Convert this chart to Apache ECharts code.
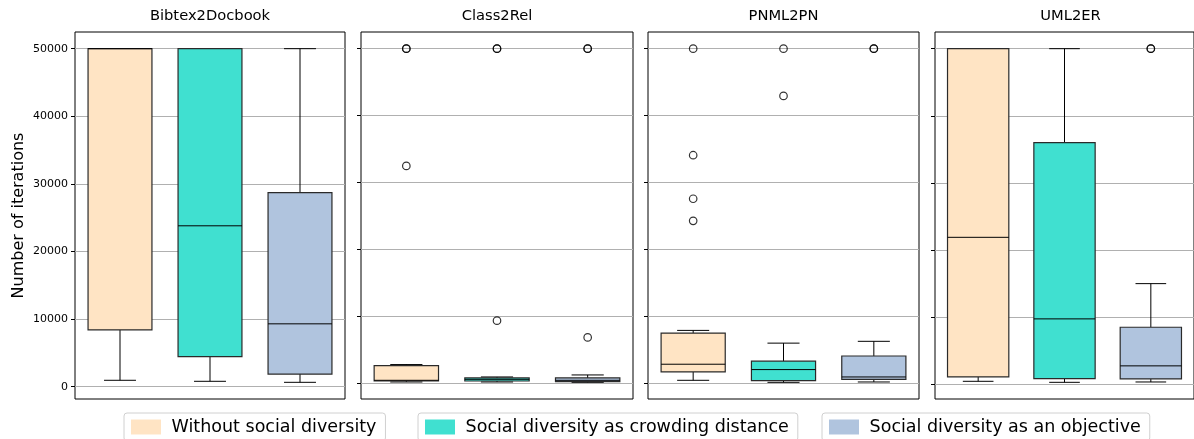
<!DOCTYPE html>
<html><head><meta charset="utf-8">
<script src="https://cdn.jsdelivr.net/npm/echarts@6/dist/echarts.min.js"></script>
<style>html,body{margin:0;padding:0;background:#fff}#c{width:1194px;height:439px}</style>
</head><body><div id="c"></div>
<script>
// ---- data ----
const panels = ['Bibtex2Docbook', 'Class2Rel', 'PNML2PN', 'UML2ER'];
const methods = ['Without social diversity', 'Social diversity as crowding distance', 'Social diversity as an objective'];
const yTicks = [0, 10000, 20000, 30000, 40000, 50000];
const yAxisTitle = 'Number of iterations';

// [low whisker, Q1, median, Q3, high whisker] per panel
const withoutStats   = [[950, 8400, 50000, 50000, 50000], [250, 400, 500, 2700, 2850], [500, 1750, 2900, 7550, 7950], [450, 1100, 21900, 50000, 50000]];
const crowdingStats  = [[800, 4450, 23800, 50000, 50000], [250, 400, 650, 850, 1000], [200, 450, 2100, 3350, 6050], [300, 850, 9750, 36000, 50000]];
const objectiveStats = [[650, 1870, 9300, 28700, 50000], [200, 300, 500, 850, 1300], [250, 650, 1000, 4130, 6320], [350, 800, 2750, 8500, 15000]];

const withoutOutliers   = [[], [32500, 50000, 50000], [24300, 27600, 34100, 50000], []];
const crowdingOutliers  = [[], [9400, 50000, 50000], [42950, 50000], []];
const objectiveOutliers = [[], [6900, 50000, 50000], [50000, 50000], [50000, 50000]];

// ---- styling ----
const FONT = 'DejaVu Sans';
const colors = ['#FFE4C4', '#40E0D0', '#B0C4DE'];
const gridLefts = [75, 361, 648, 935];
const gridWidths = [270, 272, 271, 271];
const gridTop = 32, gridHeight = 367;
const legendLefts = [124, 418, 822];

const statsByMethod = [withoutStats, crowdingStats, objectiveStats];
const outliersByMethod = [withoutOutliers, crowdingOutliers, objectiveOutliers];

function renderBox(params, api) {
  const c = api.value(0);
  const pts = [1, 2, 3, 4, 5].map(i => api.coord([c, api.value(i)]));
  const [pLow, pQ1, pMed, pQ3, pHigh] = pts;
  const cx = pLow[0];
  const band = api.size([1, 0])[0];
  const bw = band * 0.71;
  const cw = bw / 4;
  const color = api.visual('color');
  const ls = { stroke: '#000', lineWidth: 1 };
  return {
    type: 'group',
    children: [
      { type: 'line', shape: { x1: cx, y1: pQ1[1], x2: cx, y2: pLow[1] }, style: ls },
      { type: 'line', shape: { x1: cx, y1: pQ3[1], x2: cx, y2: pHigh[1] }, style: ls },
      { type: 'line', shape: { x1: cx - cw, y1: pLow[1], x2: cx + cw, y2: pLow[1] }, style: ls },
      { type: 'line', shape: { x1: cx - cw, y1: pHigh[1], x2: cx + cw, y2: pHigh[1] }, style: ls },
      { type: 'rect', shape: { x: cx - bw / 2, y: pQ3[1], width: bw, height: pQ1[1] - pQ3[1] },
        style: { fill: color, stroke: '#2a2a2a', lineWidth: 1.2 } },
      { type: 'line', shape: { x1: cx - bw / 2, y1: pMed[1], x2: cx + bw / 2, y2: pMed[1] }, style: ls }
    ]
  };
}

const grids = [], xAxes = [], yAxes = [], series = [], graphics = [];
panels.forEach((p, pi) => {
  grids.push({ left: gridLefts[pi], top: gridTop, width: gridWidths[pi], height: gridHeight,
    show: true, borderColor: '#000', borderWidth: 1, backgroundColor: 'transparent', containLabel: false });
  xAxes.push({ gridIndex: pi, type: 'category', data: methods, boundaryGap: true,
    axisLine: { show: false }, axisTick: { show: false }, axisLabel: { show: false }, splitLine: { show: false } });
  // per-panel autoscale with 5% margins (as the source plot does)
  let vals = [];
  statsByMethod.forEach(s => vals.push(...s[pi]));
  outliersByMethod.forEach(o => vals.push(...o[pi]));
  const dmin = Math.min(...vals), dmax = Math.max(...vals);
  const m = (dmax - dmin) * 0.05;
  yAxes.push({ gridIndex: pi, type: 'value', min: dmin - m, max: dmax + m,
    name: pi === 0 ? yAxisTitle : '', nameLocation: 'middle', nameGap: 48,
    nameTextStyle: { fontFamily: FONT, fontSize: 16, color: '#000' },
    axisLine: { show: false },
    axisTick: { show: true, length: 4, customValues: yTicks, lineStyle: { color: '#000' } },
    axisLabel: { show: pi === 0, customValues: yTicks, fontFamily: FONT, fontSize: 11, color: '#000', margin: 7,
      formatter: v => String(Math.round(v)) },
    splitLine: { show: true, lineStyle: { color: '#b0b0b0', width: 1 } } });
  graphics.push({ type: 'text', x: gridLefts[pi] + gridWidths[pi] / 2, y: 16,
    style: { text: p, fontFamily: FONT, fontSize: 14.7, fill: '#000', textAlign: 'center', textVerticalAlign: 'middle' } });
  methods.forEach((mname, mi) => {
    series.push({ type: 'custom', name: mname, xAxisIndex: pi, yAxisIndex: pi,
      itemStyle: { color: colors[mi] }, renderItem: renderBox, clip: false,
      encode: { x: 0, y: [1, 2, 3, 4, 5] },
      data: [[mi, ...statsByMethod[mi][pi]]], z: 2 });
    series.push({ type: 'scatter', name: 'outliers-' + pi + '-' + mi, xAxisIndex: pi, yAxisIndex: pi,
      symbol: 'circle', symbolSize: 7.5, z: 3,
      itemStyle: { color: 'rgba(255,255,255,0)', borderColor: '#000', borderWidth: 1.2 },
      data: outliersByMethod[mi][pi].map(v => [mi, v]) });
  });
});

const legends = methods.map((mname, i) => ({
  data: [mname], left: legendLefts[i], top: 413, orient: 'horizontal', selectedMode: false,
  icon: 'rect', itemWidth: 30, itemHeight: 15, padding: [5, 9, 5, 7],
  borderColor: '#d0d0d0', borderWidth: 1, borderRadius: 3,
  formatter: n => ' ' + n,
  itemStyle: { borderWidth: 0 },
  textStyle: { fontFamily: FONT, fontSize: 17.5, color: '#000' }
}));

const chart = echarts.init(document.getElementById('c'), null, { renderer: 'canvas' });
chart.setOption({
  animation: false,
  backgroundColor: '#fff',
  textStyle: { fontFamily: FONT },
  grid: grids, xAxis: xAxes, yAxis: yAxes, legend: legends, series: series, graphic: graphics
});
</script></body></html>
